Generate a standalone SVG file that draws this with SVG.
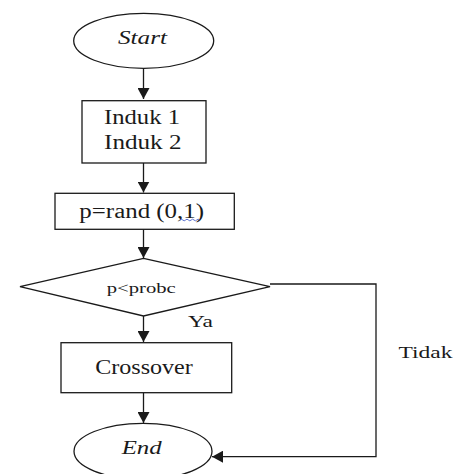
<svg xmlns="http://www.w3.org/2000/svg" width="457" height="474" viewBox="0 0 457 474">
<style>
.shape{fill:#fff;stroke:#1a1a1a;stroke-width:1.3}
.t{font-family:"Liberation Serif","Times New Roman",serif;fill:#1a1a1a;text-anchor:middle}
.i{font-style:italic}
.conn{fill:none;stroke:#1a1a1a;stroke-width:1.3}
</style>
<defs>
<marker id="ah" markerUnits="userSpaceOnUse" markerWidth="11" markerHeight="12" viewBox="0 0 11 12" refX="11" refY="6" orient="auto">
<path d="M0,0 L11,6 L0,12 z" fill="#1a1a1a"/>
</marker>
</defs>
<rect width="457" height="474" fill="#fff"/>
<g id="connectors">
<line class="conn" x1="143.5" y1="68.5" x2="143.5" y2="99" marker-end="url(#ah)"/>
<line class="conn" x1="143.5" y1="163" x2="143.5" y2="192.5" marker-end="url(#ah)"/>
<line class="conn" x1="143.5" y1="229.5" x2="143.5" y2="258" marker-end="url(#ah)"/>
<line class="conn" x1="143.5" y1="316" x2="143.5" y2="342" marker-end="url(#ah)"/>
<line class="conn" x1="143.5" y1="393" x2="143.5" y2="423" marker-end="url(#ah)"/>
<polyline class="conn" points="270,284 376,284 376,456.7 212,456.7" marker-end="url(#ah)"/>
<text class="t" x="200.5" y="327" font-size="17" textLength="25" lengthAdjust="spacingAndGlyphs">Ya</text>
<text class="t" x="425.5" y="357.5" font-size="17" textLength="54" lengthAdjust="spacingAndGlyphs">Tidak</text>
</g>
<g id="start">
<ellipse class="shape" cx="143.7" cy="40.8" rx="70" ry="27.5"/>
<text class="t i" x="142.5" y="44" font-size="19" textLength="49" lengthAdjust="spacingAndGlyphs">Start</text>
</g>
<g id="induk">
<rect class="shape" x="82" y="100.7" width="124" height="62.3"/>
<text class="t" x="142" y="124" font-size="20" textLength="76" lengthAdjust="spacingAndGlyphs">Induk 1</text>
<text class="t" x="142.8" y="149" font-size="20" textLength="77.5" lengthAdjust="spacingAndGlyphs">Induk 2</text>
</g>
<g id="rand">
<rect class="shape" x="55" y="193.3" width="179.3" height="36"/>
<text class="t" x="141.7" y="217.7" font-size="20" textLength="124.7" lengthAdjust="spacingAndGlyphs">p=rand (0,1)</text>
<path d="M180,220 q1.4,-1.6 2.8,0 t2.8,0 t2.8,0 t2.8,0 t2.8,0 t2.8,0 t2.8,0" fill="none" stroke="#4a62c9" stroke-width="0.9"/>
</g>
<g id="decision">
<polygon class="shape" points="143.5,258.3 270,286.7 143.5,316 20,286.7"/>
<text class="t" x="141.3" y="292.7" font-size="14" textLength="69" lengthAdjust="spacingAndGlyphs">p&lt;probc</text>
</g>
<g id="crossover">
<rect class="shape" x="61" y="342.7" width="170.7" height="50"/>
<text class="t" x="144" y="374" font-size="20" textLength="97.7" lengthAdjust="spacingAndGlyphs">Crossover</text>
</g>
<g id="end">
<ellipse class="shape" cx="143" cy="451.3" rx="69" ry="28"/>
<text class="t i" x="141.7" y="454" font-size="19" textLength="40" lengthAdjust="spacingAndGlyphs">End</text>
</g>
</svg>
